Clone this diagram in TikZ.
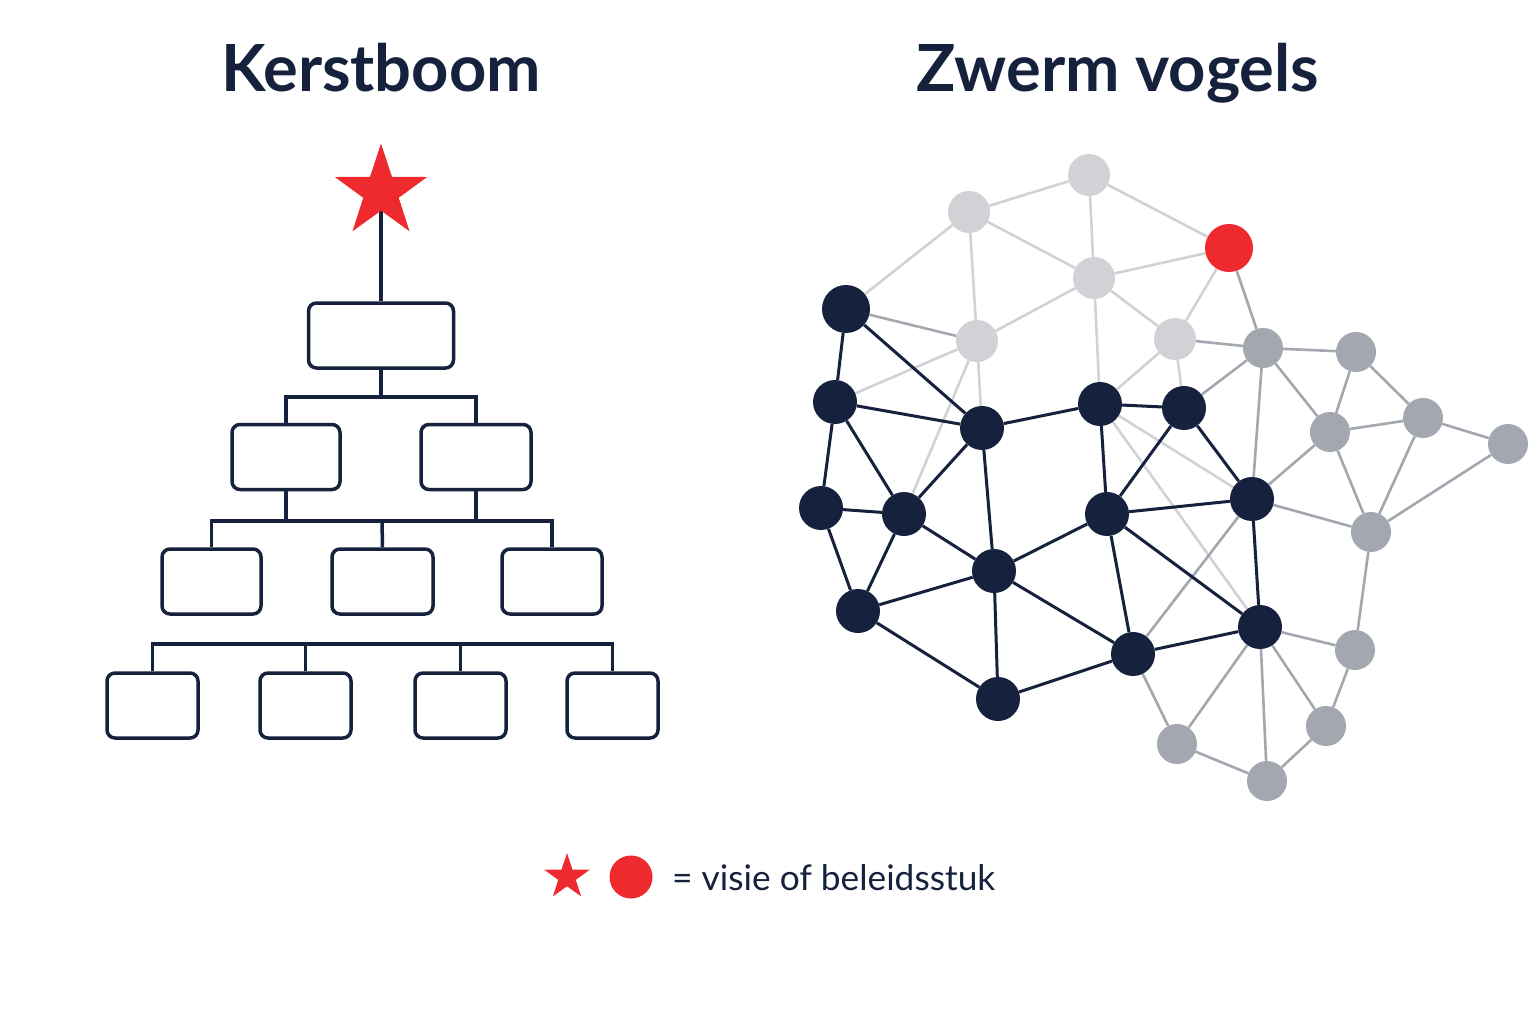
\documentclass[tikz,border=0pt]{standalone}
\usepackage{fontspec}
\setmainfont{Lato}
\usetikzlibrary{shapes.geometric,backgrounds}

\definecolor{navy}{HTML}{16213D}
\definecolor{vred}{HTML}{EE2A2E}
\definecolor{lgrey}{HTML}{D0D2D6}
\definecolor{mgrey}{HTML}{A3A7AF}

\begin{document}
\begin{tikzpicture}[x=1pt,y=-1pt,
	box/.style={draw=navy,line width=3.5pt,rounded corners=8pt,minimum height=65pt,inner sep=0pt},
	link/.style={draw=navy,line width=3.5pt},
	darkdot/.style={circle,fill=navy,minimum size=44pt,inner sep=0pt},
	lightdot/.style={circle,fill=lgrey,minimum size=42pt,inner sep=0pt},
	greydot/.style={circle,fill=mgrey,minimum size=40pt,inner sep=0pt},
	reddot/.style={circle,fill=vred,minimum size=48pt,inner sep=0pt},
	darkedge/.style={draw=navy,line width=3pt},
	lightedge/.style={draw=lgrey,line width=2.6pt},
	greyedge/.style={draw=mgrey,line width=2.6pt},
	redstar/.style={star,star points=5,star point ratio=2.6,fill=vred,inner sep=0pt}]
	% canvas
	\useasboundingbox (0,0) rectangle (1536,1024);
	\begin{scope}[on background layer]
		\fill[white] (0,0) rectangle (1536,1024);
	\end{scope}

	% titles
	\node[anchor=base,text=navy,font=\fontsize{65}{72}\selectfont\bfseries] (t1) at (381,92) {Kerstboom};
	\node[anchor=base,text=navy,font=\fontsize{65}{72}\selectfont\bfseries] (t2) at (1118,92) {Zwerm vogels};

	% tree - star and boxes
	\node[redstar,minimum size=97pt] (ster) at (381,192) {};
	\node[box,minimum width=145pt] (b1) at (381,335.5) {};
	\node[box,minimum width=108pt] (b21) at (286,457) {};
	\node[box,minimum width=110pt] (b22) at (476,457) {};
	\node[box,minimum width=99pt] (b31) at (211.5,581.5) {};
	\node[box,minimum width=101pt] (b32) at (382.5,581.5) {};
	\node[box,minimum width=100pt] (b33) at (552,581.5) {};
	\foreach \x [count=\i] in {152.5,305.5,460.5,612.5}
		\node[box,minimum width=91pt] (b4\i) at (\x,705.5) {};

	% tree - junctions
	\coordinate (j1) at (381,397);
	\coordinate (j2) at (382,521);
	\coordinate (j3) at (382,644);

	% tree - lines
	\begin{scope}[on background layer]
		\draw[link] (ster.center) -- (b1.north);
	\end{scope}
	\draw[link] (b1.south) -- (j1);
	\draw[link] (b21.north) |- (j1) -| (b22.north);
	\draw[link] (b21.south) -- (b21.south |- j2);
	\draw[link] (b22.south) -- (b22.south |- j2);
	\draw[link] (b31.north) |- (j2) -| (b33.north);
	\draw[link] (b32.north) -- (j2);
	\draw[link] (b41.north) |- (j3) -| (b44.north);
	\draw[link] (b42.north) -- (b42.north |- j3);
	\draw[link] (b43.north) -- (b43.north |- j3);

	% swarm - light nodes
	\node[lightdot] (l1) at (969,212) {};
	\node[lightdot] (l2) at (1089,175) {};
	\node[lightdot] (l3) at (1094,278) {};
	\node[lightdot] (l4) at (977,341) {};
	\node[lightdot] (l5) at (1175,339) {};
	\node[reddot] (rood) at (1229,248) {};

	% swarm - grey nodes
	\node[greydot] (g1) at (1263,348) {};
	\node[greydot] (g2) at (1356,352) {};
	\node[greydot] (g3) at (1330,432) {};
	\node[greydot] (g4) at (1423,418) {};
	\node[greydot] (g5) at (1508,444) {};
	\node[greydot] (g6) at (1371,532) {};
	\node[greydot] (g7) at (1355,650) {};
	\node[greydot] (g8) at (1326,726) {};
	\node[greydot] (g9) at (1267,781) {};
	\node[greydot] (g10) at (1177,744) {};

	% swarm - dark nodes
	\node[darkdot,minimum size=48pt] (d1) at (846,309) {};
	\node[darkdot] (d2) at (835,402) {};
	\node[darkdot] (d3) at (982,428) {};
	\node[darkdot] (d4) at (1100,404) {};
	\node[darkdot] (d5) at (1184,408) {};
	\node[darkdot] (d6) at (821,508) {};
	\node[darkdot] (d7) at (904,514) {};
	\node[darkdot] (d8) at (1107,514) {};
	\node[darkdot] (d9) at (1252,499) {};
	\node[darkdot] (d10) at (994,571) {};
	\node[darkdot] (d11) at (858,611) {};
	\node[darkdot] (d12) at (1133,654) {};
	\node[darkdot] (d13) at (1260,627) {};
	\node[darkdot] (d14) at (998,699) {};

	% swarm - edges
	\begin{scope}[on background layer]
		\foreach \a/\b in {l1/l2,l2/rood,l2/l3,l1/l3,l1/d1,l1/l4,l3/rood,l3/l4,l3/l5,l3/d4,
			rood/l5,l5/d4,l5/d5,l4/d2,l4/d3,l4/d7,d4/d9,d4/d13}
			\draw[lightedge] (\a) -- (\b);
		\foreach \a/\b in {rood/g1,l5/g1,d1/l4,d5/g1,g1/g2,g1/g3,g1/d9,g2/g3,g2/g4,g3/g4,g3/d9,
			g3/g6,g4/g6,g4/g5,g5/g6,g6/d9,g6/g7,d9/d12,d13/g7,d13/g8,d13/g9,d13/g10,
			d12/g10,g10/g9,g9/g8,g8/g7}
			\draw[greyedge] (\a) -- (\b);
		\foreach \a/\b in {d1/d2,d1/d3,d2/d3,d2/d6,d2/d7,d3/d4,d3/d7,d3/d10,d4/d5,d4/d8,d5/d8,
			d5/d9,d6/d7,d6/d11,d7/d11,d7/d10,d8/d9,d8/d10,d8/d12,d8/d13,d9/d13,d10/d11,
			d10/d12,d10/d14,d11/d14,d12/d13,d12/d14}
			\draw[darkedge] (\a) -- (\b);
	\end{scope}

	% legend
	\node[redstar,minimum size=48pt] (lster) at (567,877) {};
	\node[reddot,minimum size=43pt] (lrond) at (631,877) {};
	\node[anchor=base west,text=navy,font=\fontsize{35.3}{40}\selectfont,inner sep=0pt] (uitleg) at (672,890) {= visie of beleidsstuk};
\end{tikzpicture}
\end{document}
